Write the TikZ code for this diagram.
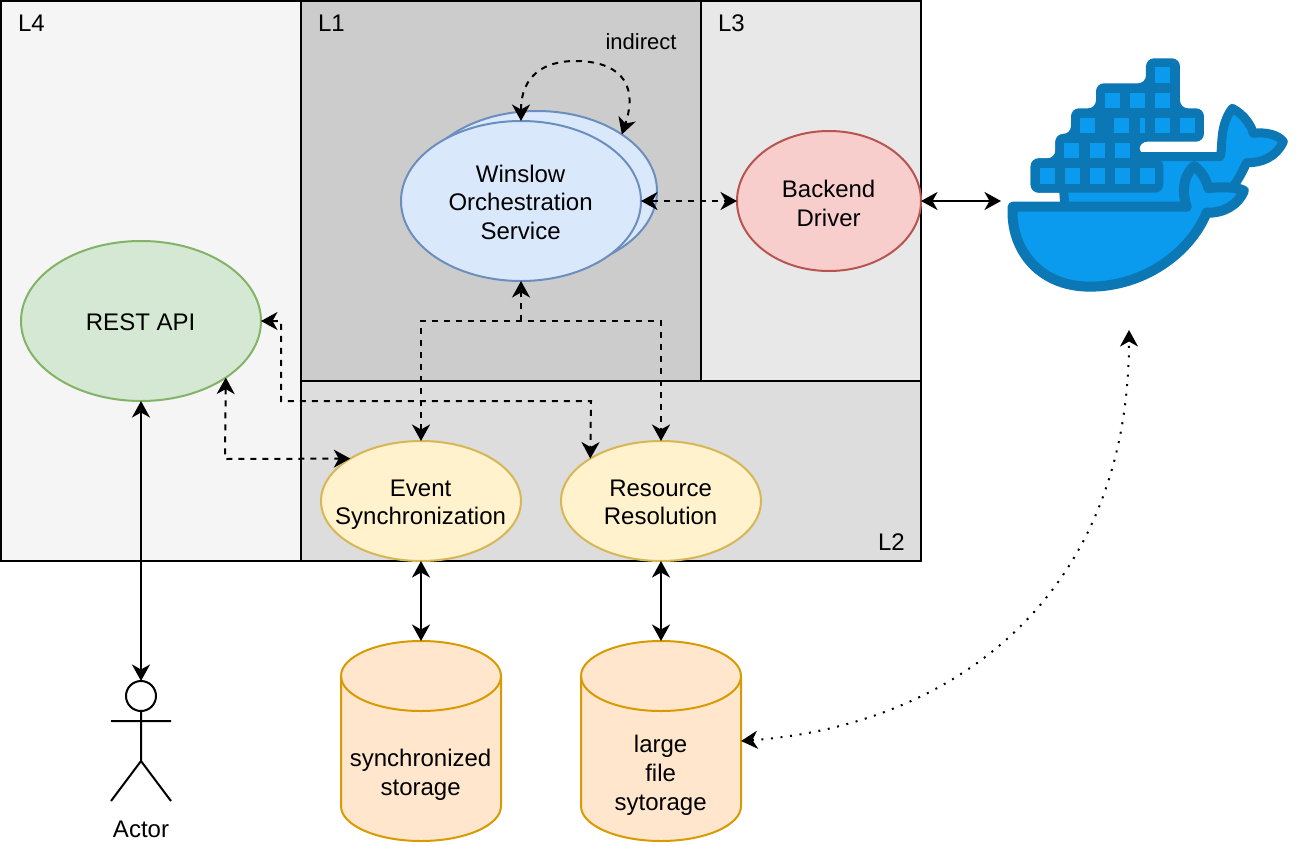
\documentclass[tikz,border=0pt]{standalone}
\usepackage{fontspec}
\setmainfont{Liberation Sans}
\usetikzlibrary{arrows.meta,shapes.geometric}
\definecolor{whaleD}{HTML}{0B77B5}
\definecolor{whaleL}{HTML}{0A9BEE}
\newcommand{\lst}{\rule[-5pt]{0pt}{22pt}}
\tikzset{
 panel/.style={draw=black,line width=2pt,rectangle,inner sep=0pt,outer sep=0pt},
 oval/.style={ellipse,draw,line width=2pt,inner sep=0pt,outer sep=0pt},
 txt/.style={inner sep=0pt,outer sep=0pt,align=center,font=\fontsize{24}{28.6}\selectfont,text=black},
 ovaltxt/.style={txt,xshift=-0.4pt,yshift=-3.5pt},
 solidc/.style={line width=2pt,{Stealth[length=16.5pt,width=18pt,inset=5pt]}-{Stealth[length=16.5pt,width=18pt,inset=5pt]}},
 dashc/.style={solidc,dash pattern=on 6pt off 6pt},
 dotc/.style={solidc,dash pattern=on 2pt off 7.6pt},
 stem/.style={line width=2pt,line cap=butt},
 cylstyle/.style={line width=2pt,draw={rgb,255:red,215;green,155;blue,0}}
}
\begin{document}
\begin{tikzpicture}[x=1pt,y=-1pt]
\useasboundingbox (0,0) rectangle (1298,844);
\fill[white] (0,0) rectangle (1298,844);
% panels
\draw[panel,fill=black!4] (1,1) rectangle (301,561);
\draw[panel,fill=black!20] (301,1) rectangle (701,381);
\draw[panel,fill=black!9] (701,1) rectangle (921,381);
\draw[panel,fill=black!13.5] (301,381) rectangle (921,561);
\node[txt,anchor=west] (l4) at (18,23) {L4};
\node[txt,anchor=west] (l1) at (318,23) {L1};
\node[txt,anchor=west] (l3) at (718,23) {L3};
\node[txt,anchor=west] (l2) at (878,542) {L2};
\node[txt,font=\fontsize{22}{26}\selectfont] (ind) at (641,42) {indirect};
% ovals
\node[oval,draw={rgb,255:red,130;green,179;blue,102},fill={rgb,255:red,213;green,232;blue,212},minimum width=240pt,minimum height=160pt] (rest) at (141,321) {};
\node[ovaltxt] (restt) at (rest.center) {\lst REST API};
\node[oval,draw={rgb,255:red,108;green,142;blue,191},fill={rgb,255:red,218;green,232;blue,252},minimum width=240pt,minimum height=160pt] (winb) at (537,191) {};
\node[oval,draw={rgb,255:red,108;green,142;blue,191},fill={rgb,255:red,218;green,232;blue,252},minimum width=240pt,minimum height=160pt] (win) at (521,201) {};
\node[ovaltxt] (wint) at (win.center) {\lst Winslow\\Orchestration\\\lst Service};
\node[oval,draw={rgb,255:red,184;green,84;blue,80},fill={rgb,255:red,248;green,206;blue,204},minimum width=184pt,minimum height=140pt] (back) at (829,201) {};
\node[ovaltxt] (backt) at ([yshift=-1pt]back.center) {\lst Backend\\\lst Driver};
\node[oval,draw={rgb,255:red,214;green,182;blue,86},fill={rgb,255:red,255;green,242;blue,204},minimum width=200pt,minimum height=120pt] (event) at (421,501) {};
\node[ovaltxt] (eventt) at (event.center) {\lst Event\\\lst Synchronization};
\node[oval,draw={rgb,255:red,214;green,182;blue,86},fill={rgb,255:red,255;green,242;blue,204},minimum width=200pt,minimum height=120pt] (res) at (661,501) {};
\node[ovaltxt] (rest2) at (res.center) {\lst Resource\\\lst Resolution};
% cylinders
\foreach \cx in {421,661}{
 \draw[cylstyle,fill={rgb,255:red,255;green,230;blue,204}]
  (\cx-80,676) arc[x radius=80,y radius=35,start angle=180,end angle=360] -- (\cx+80,806)
  arc[x radius=80,y radius=35,start angle=0,end angle=180] -- cycle;
 \draw[cylstyle] (\cx-80,676) arc[x radius=80,y radius=35,start angle=180,end angle=0];
}
\node[txt,minimum width=160pt,minimum height=200pt] (sync) at (421,741) {};
\node[txt,minimum width=160pt,minimum height=200pt] (large) at (661,741) {};
\node[ovaltxt] (synct) at (421,771.5) {\lst synchronized\\\lst storage};
\node[ovaltxt] (larget) at (661,771.8) {\lst large\\file\\\lst sytorage};
% actor
\node[circle,draw,line width=2pt,fill=white,minimum size=30pt,inner sep=0pt,outer sep=0pt] (head) at (141,696) {};
\draw[stem] (head.south) -- (141,761) (111,721) -- (171,721) (111,801) -- (141,761) -- (171,801);
\node[txt] (actor) at (141,829) {Actor};
% whale
\begin{scope}[shift={(990,40)},x=0.3333pt,y=-0.3333pt]
 \fill[whaleD,rounded corners=8pt] (468,55) -- (570,55) -- (570,205) -- (642,205) -- (642,305) -- (448,305) -- (448,345) -- (520,345) -- (520,458) -- (122,458) -- (122,355) -- (196,355) -- (196,282) -- (243,282) -- (243,205) -- (318,205) -- (318,130) -- (468,130) -- cycle;
 \draw[whaleD,line width=9pt,fill=whaleL,line join=round] (212,350) -- (690,350)
   .. controls (700,330) and (685,260) .. (727,205)
   .. controls (765,225) and (785,260) .. (790,280)
   .. controls (830,275) and (865,285) .. (880,305)
   .. controls (860,350) and (815,370) .. (770,368)
   .. controls (755,400) and (745,420) .. (725,445) -- (640,500) -- (225,500) -- cycle;
 \fill[whaleD,rounded corners=8pt] (122,355) rectangle (520,458);
 \fill[whaleD,rounded corners=8pt] (196,282) rectangle (448,360);
 \foreach \mx/\my in {517/105,367/182,442/182,517/182,292/257,395/257,517/257,592/257,245/332,322/332,397/332,172/408,247/408,322/408,397/408,472/408}
   \fill[whaleL] (\mx-23,\my-23) rectangle (\mx+23,\my+23);
 \fill[whaleL] (450,235) rectangle (466,280);
 \draw[whaleD,line width=10pt,fill=whaleL,line join=round] (68,500) -- (590,500)
   .. controls (570,440) and (590,395) .. (613,378)
   .. controls (635,395) and (650,420) .. (655,445)
   .. controls (690,440) and (735,440) .. (762,452)
   .. controls (745,495) and (700,520) .. (650,518)
   .. controls (600,640) and (460,740) .. (300,740)
   .. controls (140,740) and (60,620) .. (68,500) -- cycle;
\end{scope}
\coordinate (dockL) at (1001,201);
\coordinate (dockB) at (1129,330);
% connectors
\draw[solidc] (rest.south) -- (head.north);
\draw[solidc] (event.south) -- (sync.north);
\draw[solidc] (res.south) -- (large.north);
\draw[solidc] (back.east) -- (dockL);
\draw[dashc] (win.east) -- (back.west);
\draw[dashc] (win.north) .. controls (521,75) and (545,61) .. (575,61) .. controls (615,61) and (640,80) .. (winb.north east);
\coordinate (jn) at (521,321);
\draw[line width=2pt,dash pattern=on 6pt off 6pt,-{Stealth[length=16.5pt,width=18pt,inset=5pt]}] (jn) -- (win.south);
\draw[dashc] (event.north) -- (421,321) -- (661,321) -- (res.north);
\draw[dashc] (rest.east) -- (281,321) -- (281,401) -- (591,401) -- (res.north west);
\draw[dashc] (rest.south east) -- (225,459) -- (event.north west);
\draw[dotc] (large.east) .. controls (960,725) and (1129,590) .. (dockB);
\end{tikzpicture}
\end{document}
